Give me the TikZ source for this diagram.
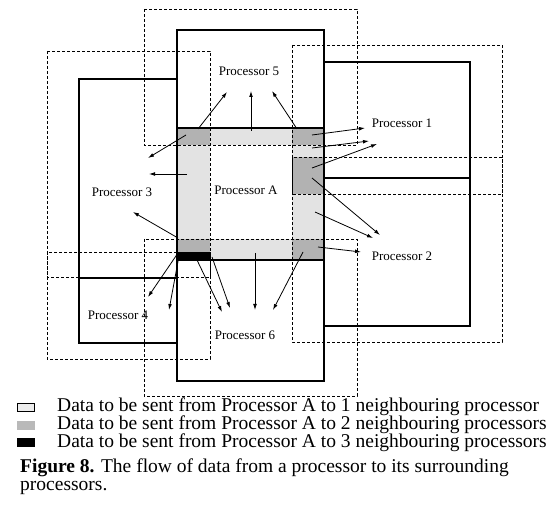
\documentclass[tikz,border=0pt]{standalone}
\usepackage{fontspec}
\setmainfont{Liberation Serif}
\usepackage{tikz}
\usetikzlibrary{positioning,arrows.meta}

\begin{document}
\begin{tikzpicture}[
    x=1pt, y=-1pt,
    >={Latex[length=6pt,width=3.8pt]},
    procbox/.style={draw, line width=1.2pt},
    halobox/.style={draw, line width=0.8pt, dash pattern=on 3pt off 2pt},
    onezone/.style={fill=gray!22},
    twozone/.style={fill=gray!60},
    threezone/.style={fill=black},
    flow/.style={->, line width=0.8pt},
    plabel/.style={font=\fontsize{13}{15}\selectfont, inner sep=0pt},
    legtext/.style={font=\fontsize{19.5}{17}\selectfont, anchor=base west, inner sep=0pt}
]
\useasboundingbox (0,0) rectangle (560,513);

% Edges of processor A and its halo strips
\def\xA{177}
\def\xB{210}
\def\xC{292}
\def\xD{324}
\def\yA{128}
\def\yB{145}
\def\yC{157}
\def\yD{194}
\def\yE{239}
\def\yF{252}
\def\yG{260}

% Data zones inside A
\fill[onezone] (\xA,\yA) rectangle (\xD,\yB);
\fill[onezone] (\xA,\yA) rectangle (\xB,\yG);
\fill[onezone] (\xC,\yA) rectangle (\xD,\yG);
\fill[onezone] (\xA,\yE) rectangle (\xD,\yG);
\fill[twozone] (\xA,\yA) rectangle (\xB,\yB);
\fill[twozone] (\xC,\yA) rectangle (\xD,\yB);
\fill[twozone] (\xC,\yC) rectangle (\xD,\yD);
\fill[twozone] (\xC,\yE) rectangle (\xD,\yG);
\fill[twozone] (\xA,\yE) rectangle (\xB,\yF);
\fill[threezone] (\xA,\yF) rectangle (\xB,\yG);

% Extended (halo) domains
\draw[halobox] (144,9) rectangle (357,\yB);   % 5
\draw[halobox] (\xC,45) rectangle (502,\yD);  % 1
\draw[halobox] (\xC,\yC) rectangle (502,342); % 2
\draw[halobox] (144,\yE) rectangle (357,396); % 6
\draw[halobox] (47,\yF) rectangle (\xB,359);  % 4
\draw[halobox] (47,51) rectangle (\xB,277);   % 3

% Own domains
\draw[procbox] (\xA,30) rectangle (\xD,\yA);
\draw[procbox] (\xD,62) rectangle (470,178);
\draw[procbox] (\xD,178) rectangle (470,326);
\draw[procbox] (\xA,\yG) rectangle (\xD,381);
\draw[procbox] (79,278) rectangle (\xA,343);
\draw[procbox] (79,79) rectangle (\xA,278);
\draw[line width=2.8pt] (\xA,\yA) rectangle (\xD,\yG);

% Labels
\node[plabel] (p5) at (249,71) {Processor 5};
\node[plabel] (p1) at (402,123) {Processor 1};
\node[plabel] (p3) at (122,192) {Processor 3};
\node[plabel] (pA) at (246,190) {Processor A};
\node[plabel] (p2) at (402,256) {Processor 2};
\node[plabel] (p4) at (118,315) {Processor 4};
\node[plabel] (p6) at (245,335) {Processor 6};

% Flow to 5
\coordinate (s51) at (198,129); \coordinate (t51) at (227,92);
\coordinate (s52) at (251,131); \coordinate (t52) at (251,91);
\coordinate (s53) at (297,129); \coordinate (t53) at (272,91);
\draw[flow] (s51) -- (t51);
\draw[flow] (s52) -- (t52);
\draw[flow] (s53) -- (t53);

% Flow to 3
\coordinate (s31) at (186,135); \coordinate (t31) at (148,158);
\coordinate (s32) at (187,174); \coordinate (t32) at (149,174);
\coordinate (s33) at (178,238); \coordinate (t33) at (133,212);
\draw[flow] (s31) -- (t31);
\draw[flow] (s32) -- (t32);
\draw[flow] (s33) -- (t33);

% Flow to 1
\coordinate (s11) at (312,135); \coordinate (t11) at (365,128);
\coordinate (s12) at (312,148); \coordinate (t12) at (369,141);
\coordinate (s13) at (312,168); \coordinate (t13) at (377,144);
\draw[flow] (s11) -- (t11);
\draw[flow] (s12) -- (t12);
\draw[flow] (s13) -- (t13);

% Flow to 2
\coordinate (s21) at (312,178); \coordinate (t21) at (380,235);
\coordinate (s22) at (315,212); \coordinate (t22) at (373,238);
\coordinate (s23) at (318,247); \coordinate (t23) at (361,252);
\draw[flow] (s21) -- (t21);
\draw[flow] (s22) -- (t22);
\draw[flow] (s23) -- (t23);

% Flow to 6
\coordinate (s61) at (255,253); \coordinate (t61) at (255,310);
\coordinate (s62) at (303,252); \coordinate (t62) at (273,310);
\coordinate (s63) at (197,260); \coordinate (t63) at (222,312);
\coordinate (s64) at (212,257); \coordinate (t64) at (230,308);
\draw[flow] (s61) -- (t61);
\draw[flow] (s62) -- (t62);
\draw[flow] (s63) -- (t63);
\draw[flow] (s64) -- (t64);

% Flow to 4
\coordinate (s41) at (178,253); \coordinate (t41) at (148,297);
\coordinate (s42) at (179,256); \coordinate (t42) at (169,310);
\draw[flow] (s41) -- (t41);
\draw[flow] (s42) -- (t42);

% Legend
\node[draw, line width=0.7pt, fill=gray!15, minimum width=17pt, minimum height=8pt, inner sep=0pt] (key1) at (25.5,407) {};
\node[fill=gray!55, minimum width=18pt, minimum height=9pt, inner sep=0pt] (key2) at (25.5,425) {};
\node[fill=black, minimum width=18pt, minimum height=9pt, inner sep=0pt] (key3) at (25.5,442) {};
\node[legtext] (leg1) at (57,411) {Data to be sent from Processor A to 1 neighbouring processor};
\node[legtext] (leg2) at (57,429) {Data to be sent from Processor A to 2 neighbouring processors};
\node[legtext] (leg3) at (57,447) {Data to be sent from Processor A to 3 neighbouring processors};

% Caption
\node[legtext] (cap1) at (20,472) {\textbf{Figure 8.} The flow of data from a processor to its surrounding};
\node[legtext] (cap2) at (20,490) {processors.};
\end{tikzpicture}
\end{document}
